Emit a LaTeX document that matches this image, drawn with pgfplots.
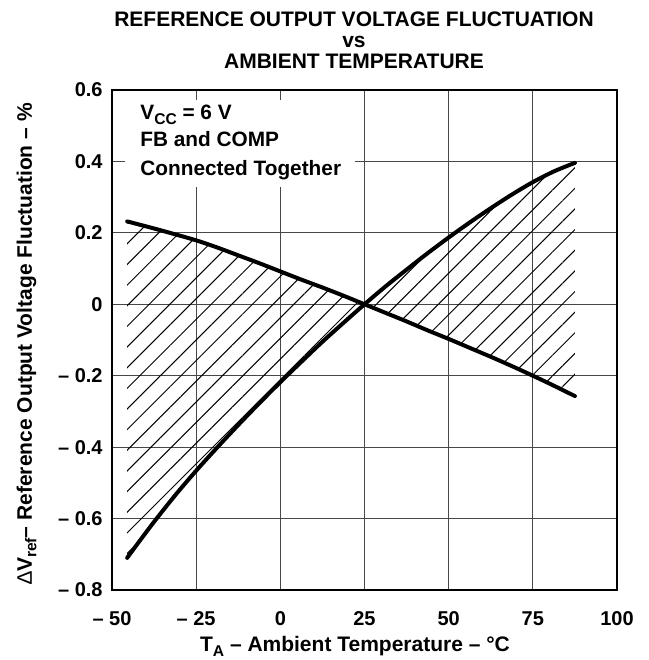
\documentclass[border=0pt]{standalone}
\usepackage{fontspec}
\setmainfont{Liberation Sans}
\usepackage{pgfplots}
\usepackage{pgfplotstable}
\pgfplotsset{compat=1.18}
\usepgfplotslibrary{fillbetween}
\usetikzlibrary{patterns.meta}

\newcommand{\sub}[1]{\raisebox{-0.4ex}{\fontsize{7.8}{8}\selectfont\bfseries #1}}

\pgfplotstableread{
x y
-45.5 0.232
-39 0.216
-32.8 0.200
-25 0.179
-18.75 0.159
-12.5 0.137
-6.25 0.115
0 0.092
6.25 0.069
12.5 0.047
18.75 0.024
25 0.000
31.25 -0.024
37.5 -0.048
43.75 -0.073
50 -0.097
56.25 -0.122
62.5 -0.147
68.75 -0.173
75 -0.200
81.25 -0.228
87.5 -0.257
}\falling

\pgfplotstableread{
x y
-45.5 -0.710
-41.5 -0.659
-37.5 -0.609
-31.25 -0.535
-25 -0.466
-18.75 -0.401
-12.5 -0.338
-6.25 -0.277
0 -0.218
6.25 -0.161
12.5 -0.105
18.75 -0.052
25 0.000
31.25 0.050
37.5 0.097
43.75 0.143
50 0.187
56.25 0.229
62.5 0.269
68.75 0.307
75 0.342
81.25 0.372
87.5 0.396
}\rising

\begin{document}
\begin{tikzpicture}
\begin{axis}[
  at={(0,0)}, anchor=south west,
  scale only axis, width=252.5pt, height=250pt,
  xmin=-50, xmax=100, ymin=-0.8, ymax=0.6,
  xtick={-50,-25,0,25,50,75,100},
  ytick={-0.8,-0.6,-0.4,-0.2,0,0.2,0.4,0.6},
  xticklabels={– 50,– 25,0,25,50,75,100},
  yticklabels={– 0.8,– 0.6,– 0.4,– 0.2,0,0.2,0.4,0.6},
  major tick length=0pt,
  grid=major,
  major grid style={line width=0.55pt, color=black!72},
  axis line style={line width=1.2pt},
  ticklabel style={font=\fontsize{10}{12}\selectfont\bfseries},
  xticklabel style={anchor=base, inner sep=0pt, yshift=-17.6pt},
  yticklabel style={anchor=east, inner sep=0pt, xshift=-4.5pt},
]
\addplot[name path=A, draw=none, smooth] table[x=x,y=y] {\falling};
\addplot[name path=B, draw=none, smooth] table[x=x,y=y] {\rising};
\addplot[draw=none, pattern={Lines[angle=45,distance=7.3pt,line width=0.5pt]}] fill between[of=A and B];
\addplot[black, line width=2pt, line cap=round, smooth] table[x=x,y=y] {\falling};
\addplot[black, line width=2pt, line cap=round, smooth] table[x=x,y=y] {\rising};
\end{axis}
\fill[white] (6.5pt,201.5pt) rectangle (121.5pt,245pt);
\begin{scope}[every node/.style={inner sep=0pt, font=\fontsize{10.4}{12}\selectfont\bfseries}]
\node[anchor=base west] at (14pt,235pt) {V\sub{CC} = 6 V};
\node[anchor=base west] at (14pt,221.5pt) {FB and COMP};
\node[anchor=base west] at (14pt,207.5pt) {Connected Together};
\end{scope}
\begin{scope}[every node/.style={inner sep=0pt, font=\fontsize{10.5}{12}\selectfont\bfseries}]
\node[anchor=base] at (121pt,281.75pt) {REFERENCE OUTPUT VOLTAGE FLUCTUATION};
\node[anchor=base] at (121pt,271.2pt) {vs};
\node[anchor=base] at (121pt,260.75pt) {AMBIENT TEMPERATURE};
\node[anchor=base] at (121.5pt,-30.8pt) {T\sub{A} – Ambient Temperature – °C};
\node[anchor=base, rotate=90] at (-40pt,123pt) {{\mdseries ∆}V\sub{ref}– Reference Output Voltage Fluctuation – \%};
\end{scope}
\pgfresetboundingbox
\path[use as bounding box] (-56pt,-35pt) rectangle (268.5pt,295pt);
\end{tikzpicture}
\end{document}
